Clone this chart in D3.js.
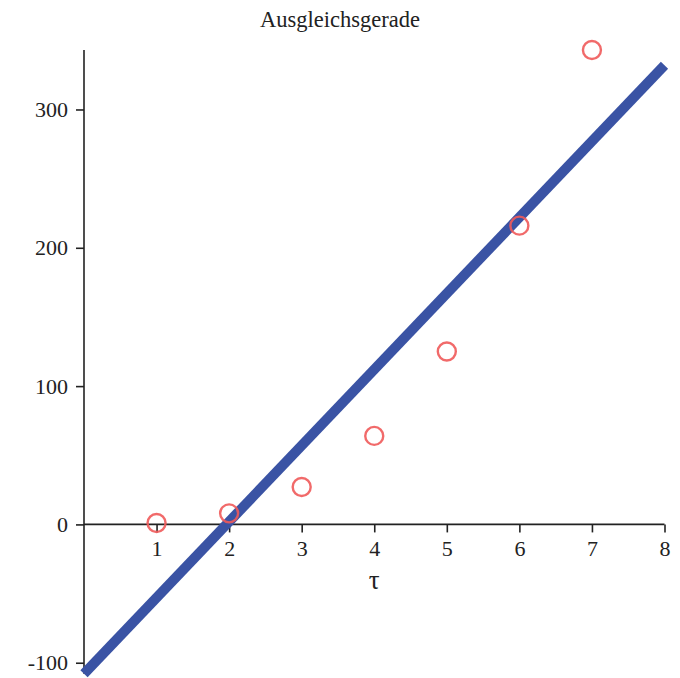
<!DOCTYPE html>
<html>
<head>
<meta charset="utf-8">
<script src="https://cdn.jsdelivr.net/npm/d3@7"></script>
<style>
  body { margin: 0; background: #fff; }
  text { font-family: "Liberation Serif", "DejaVu Serif", serif; fill: #222; }
</style>
</head>
<body>
<div id="chart"></div>
<script>
// data points (tau, value) and the fitted line
const tau = [1, 2, 3, 4, 5, 6, 7];
const values = [1, 8, 27, 64, 125, 216, 343];
const fitX = [0, 8];
const fitY = [-108, 332];
const xTicks = [1, 2, 3, 4, 5, 6, 7, 8];
const yTicks = [-100, 0, 100, 200, 300];

const WIDTH = 680;
const HEIGHT = 678;

const x = d3.scaleLinear().domain([0, 8]).range([84, 664.5]);
const y = d3.scaleLinear().domain([-108, 343]).range([673.8, 50]);

const svg = d3.select('#chart').append('svg')
  .attr('width', WIDTH)
  .attr('height', HEIGHT);

svg.append('text')
  .attr('x', 340)
  .attr('y', 27)
  .attr('text-anchor', 'middle')
  .style('font-size', '22.5px')
  .text('Ausgleichsgerade');

// x axis at y = 0
const xAxis = svg.append('g')
  .attr('transform', `translate(0,${y(0)})`);
xAxis.call(d3.axisBottom(x).tickValues(d3.range(0.5, 8.01, 0.5)).tickSize(4).tickFormat(''))
  .call(g => g.select('.domain').remove());
xAxis.call(d3.axisBottom(x).tickValues(xTicks).tickSize(8).tickPadding(8)
    .tickFormat(d3.format('d')))
  .call(g => g.select('.domain').attr('d', `M${x(0)},0H${x(8)}`));
xAxis.selectAll('line').attr('stroke', '#222').attr('stroke-width', 1.6);
xAxis.selectAll('.domain').attr('stroke', '#222').attr('stroke-width', 1.6);
xAxis.selectAll('text').style('font-size', '22px').attr('fill', '#222');

svg.append('text')
  .attr('x', x(4))
  .attr('y', 589)
  .attr('text-anchor', 'middle')
  .style('font-size', '27px')
  .text('τ');

// y axis at x = 0
const yAxis = svg.append('g')
  .attr('transform', `translate(${x(0)},0)`);
yAxis.call(d3.axisLeft(y).tickValues([-50, 50, 150, 250]).tickSize(4).tickFormat(''))
  .call(g => g.select('.domain').remove());
yAxis.call(d3.axisLeft(y).tickValues(yTicks).tickSize(8).tickPadding(8)
    .tickFormat(d => d < 0 ? '-' + Math.abs(d) : d))
  .call(g => g.select('.domain').attr('d', `M0,${y(-108)}V${y(343)}`));
yAxis.selectAll('line').attr('stroke', '#222').attr('stroke-width', 1.6);
yAxis.selectAll('.domain').attr('stroke', '#222').attr('stroke-width', 1.6);
yAxis.selectAll('text').style('font-size', '22px').attr('fill', '#222');

// fitted line
const fit = fitX.map((d, i) => [d, fitY[i]]);
svg.append('path')
  .datum(fit)
  .attr('d', d3.line().x(d => x(d[0])).y(d => y(d[1])))
  .attr('stroke', '#3a53a4')
  .attr('stroke-width', 10)
  .attr('fill', 'none');

// measured points
svg.append('g')
  .selectAll('circle')
  .data(tau.map((d, i) => ({t: d, v: values[i]})))
  .enter()
  .append('circle')
  .attr('cx', d => x(d.t))
  .attr('cy', d => y(d.v))
  .attr('r', 9)
  .attr('fill', 'none')
  .attr('stroke', '#f05a5a')
  .attr('stroke-width', 2.4)
  .attr('stroke-opacity', 0.9);
</script>
</body>
</html>
